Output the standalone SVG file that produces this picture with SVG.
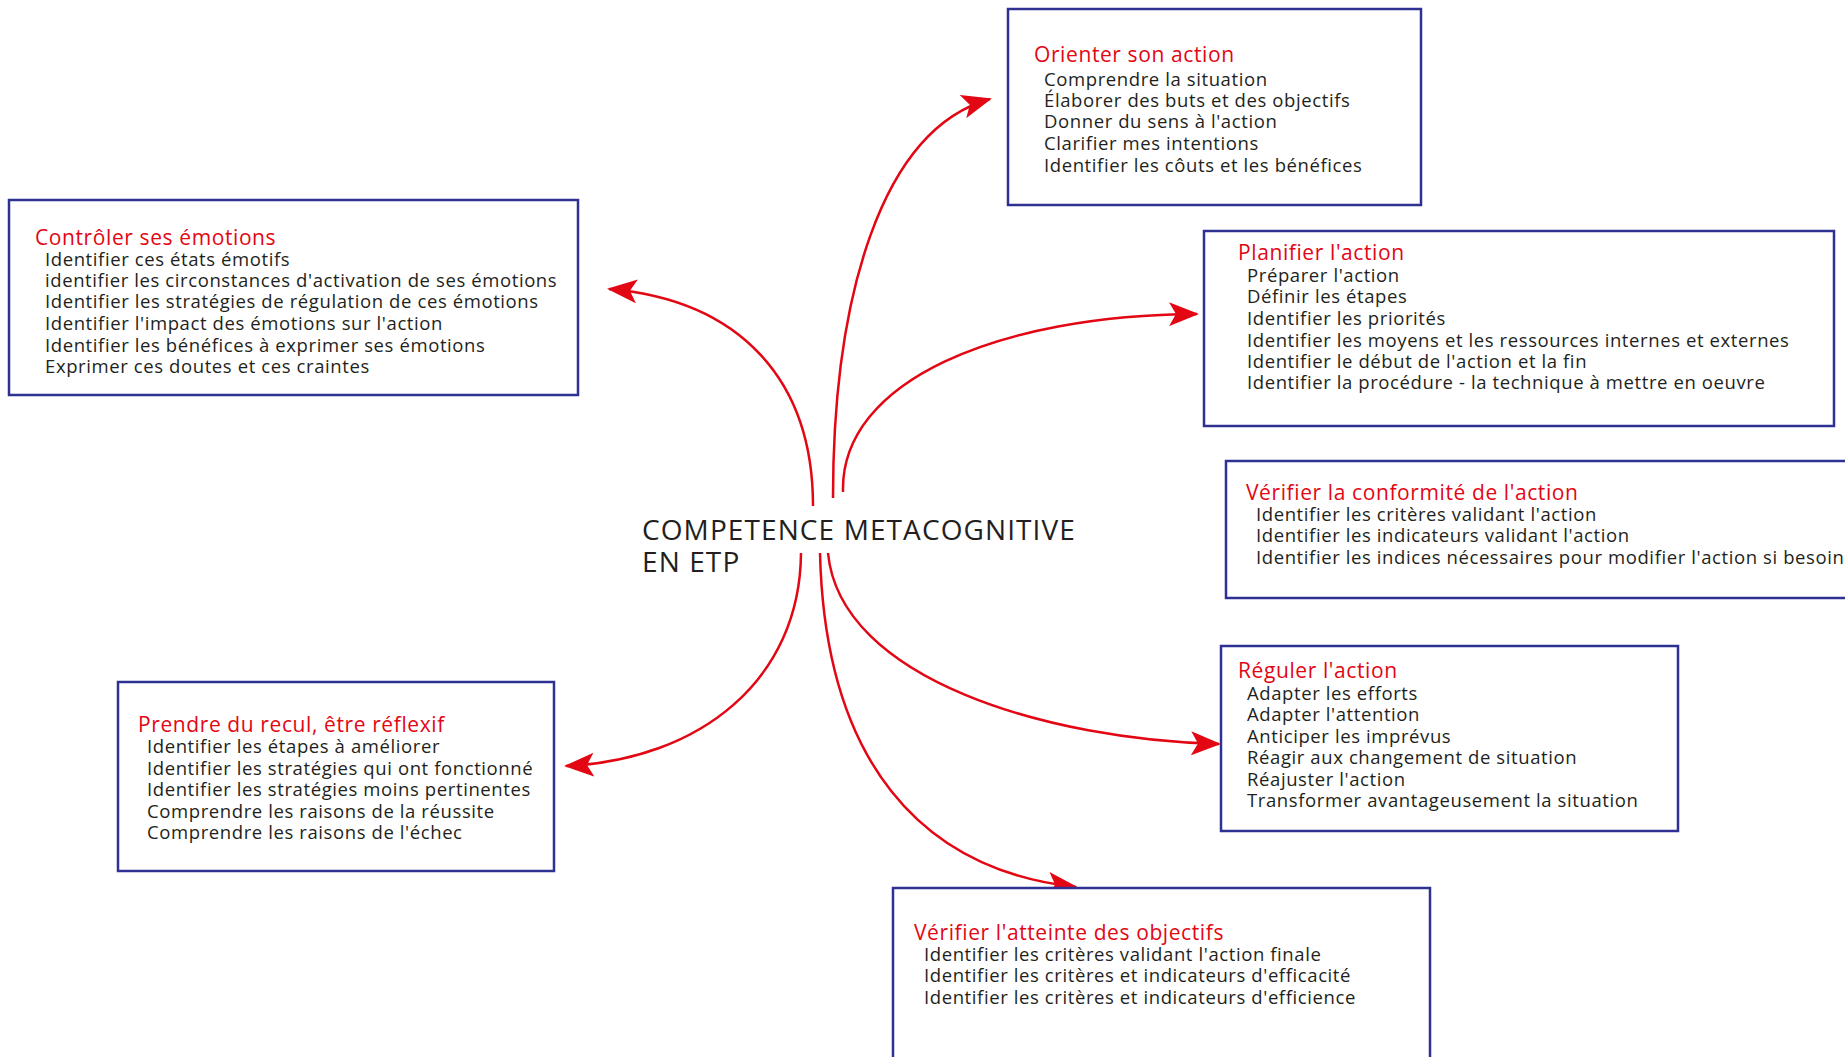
<svg xmlns="http://www.w3.org/2000/svg" width="1845" height="1057" viewBox="0 0 1845 1057">
<style>
.box{fill:#fff;stroke:#2e3192;stroke-width:2.5}
.t{font-family:"Open Sans","Liberation Sans",sans-serif;font-size:21px;letter-spacing:0.6px;fill:#e30613}
.i{font-family:"Open Sans","Liberation Sans",sans-serif;font-size:18.5px;letter-spacing:0.6px;fill:#231f20}
.c{font-family:"Open Sans","Liberation Sans",sans-serif;font-size:28px;letter-spacing:1.1px;fill:#231f20}
.a{fill:none;stroke:#e30613;stroke-width:2.5;marker-end:url(#ah)}
</style>
<defs>
<marker id="ah" viewBox="0 0 30 24" refX="28" refY="12" markerWidth="30" markerHeight="24" markerUnits="userSpaceOnUse" orient="auto">
<path d="M0,0 L30,12 L0,24 L7,12 Z" fill="#e30613"/>
</marker>
</defs>
<rect width="1845" height="1057" fill="#fff"/>
<g id="connectors">
<path class="a" d="M813,506 C813,380 740,300 609,289"/>
<path class="a" d="M833,498 C833,300 880,130 990,99"/>
<path class="a" d="M843,492 C840,380 1000,315 1197,314"/>
<path class="a" d="M801,553 C800,680 700,760 566,766"/>
<path class="a" d="M820,553 C825,760 920,870 1076,887"/>
<path class="a" d="M828,553 C840,680 1050,740 1219,744"/>
</g>
<g id="center">
<text class="c" x="642" y="540">COMPETENCE METACOGNITIVE</text>
<text class="c" x="642" y="572">EN ETP</text>
</g>
<g id="orienter">
<rect class="box" x="1008" y="9" width="413" height="196"/>
<text class="t" x="1034" y="62">Orienter son action</text>
<text class="i" x="1044" y="86">Comprendre la situation</text>
<text class="i" x="1044" y="107">Élaborer des buts et des objectifs</text>
<text class="i" x="1044" y="128">Donner du sens à l'action</text>
<text class="i" x="1044" y="150">Clarifier mes intentions</text>
<text class="i" x="1044" y="172">Identifier les côuts et les bénéfices</text>
</g>
<g id="controler">
<rect class="box" x="9" y="200" width="569" height="195"/>
<text class="t" x="35" y="245">Contrôler ses émotions</text>
<text class="i" x="45" y="266">Identifier ces états émotifs</text>
<text class="i" x="45" y="287">identifier les circonstances d'activation de ses émotions</text>
<text class="i" x="45" y="308">Identifier les stratégies de régulation de ces émotions</text>
<text class="i" x="45" y="330">Identifier l'impact des émotions sur l'action</text>
<text class="i" x="45" y="352">Identifier les bénéfices à exprimer ses émotions</text>
<text class="i" x="45" y="373">Exprimer ces doutes et ces craintes</text>
</g>
<g id="planifier">
<rect class="box" x="1204" y="231" width="630" height="195"/>
<text class="t" x="1238" y="260">Planifier l'action</text>
<text class="i" x="1247" y="282">Préparer l'action</text>
<text class="i" x="1247" y="303">Définir les étapes</text>
<text class="i" x="1247" y="325">Identifier les priorités</text>
<text class="i" x="1247" y="347">Identifier les moyens et les ressources internes et externes</text>
<text class="i" x="1247" y="368">Identifier le début de l'action et la fin</text>
<text class="i" x="1247" y="389">Identifier la procédure - la technique à mettre en oeuvre</text>
</g>
<g id="conformite">
<rect class="box" x="1226" y="461" width="640" height="137"/>
<text class="t" x="1246" y="500">Vérifier la conformité de l'action</text>
<text class="i" x="1256" y="521">Identifier les critères validant l'action</text>
<text class="i" x="1256" y="542">Identifier les indicateurs validant l'action</text>
<text class="i" x="1256" y="564">Identifier les indices nécessaires pour modifier l'action si besoin</text>
</g>
<g id="prendre">
<rect class="box" x="118" y="682" width="436" height="189"/>
<text class="t" x="138" y="732">Prendre du recul, être réflexif</text>
<text class="i" x="147" y="753">Identifier les étapes à améliorer</text>
<text class="i" x="147" y="775">Identifier les stratégies qui ont fonctionné</text>
<text class="i" x="147" y="796">Identifier les stratégies moins pertinentes</text>
<text class="i" x="147" y="818">Comprendre les raisons de la réussite</text>
<text class="i" x="147" y="839">Comprendre les raisons de l'échec</text>
</g>
<g id="reguler">
<rect class="box" x="1221" y="646" width="457" height="185"/>
<text class="t" x="1238" y="678">Réguler l'action</text>
<text class="i" x="1247" y="700">Adapter les efforts</text>
<text class="i" x="1247" y="721">Adapter l'attention</text>
<text class="i" x="1247" y="743">Anticiper les imprévus</text>
<text class="i" x="1247" y="764">Réagir aux changement de situation</text>
<text class="i" x="1247" y="786">Réajuster l'action</text>
<text class="i" x="1247" y="807">Transformer avantageusement la situation</text>
</g>
<g id="atteinte">
<rect class="box" x="893" y="888" width="537" height="200"/>
<text class="t" x="914" y="940">Vérifier l'atteinte des objectifs</text>
<text class="i" x="924" y="961">Identifier les critères validant l'action finale</text>
<text class="i" x="924" y="982">Identifier les critères et indicateurs d'efficacité</text>
<text class="i" x="924" y="1004">Identifier les critères et indicateurs d'efficience</text>
</g>
</svg>
